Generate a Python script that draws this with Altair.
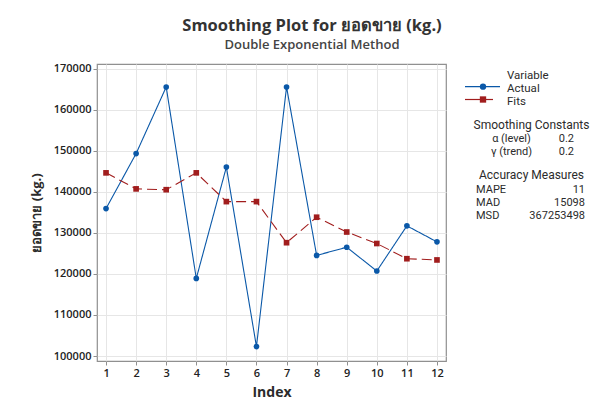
import altair as alt
import pandas as pd

index = list(range(1, 13))
actual = [135900, 149300, 165500, 118900, 146000, 102300, 165500, 124500, 126500, 120700, 131700, 127800]
fits = [144600, 140700, 140500, 144600, 137600, 137600, 127600, 133800, 130200, 127400, 123700, 123400]
series_names = ["Actual", "Fits"]
series_colors = ["#0a58a8", "#a11d1d"]

title_text = "Smoothing Plot for ยอดขาย (kg.)"
subtitle_text = "Double Exponential Method"
y_title = "ยอดขาย (kg.)"
x_title = "Index"
const_labels = ["α (level)", "γ (trend)"]
const_values = ["0.2", "0.2"]
acc_labels = ["MAPE", "MAD", "MSD"]
acc_values = ["11", "15098", "367253498"]

FONT = "Open Sans"
LFONT = "Roboto"
TXT = "#2b2b2b"

df = pd.DataFrame({
    "Index": index * 2,
    "Value": actual + fits,
    "Variable": ["Actual"] * len(index) + ["Fits"] * len(index),
})

W, H = 349, 297

xs = alt.X("Index:Q", scale=alt.Scale(domain=[0.7, 12.3], nice=False, zero=False),
           axis=alt.Axis(values=index, title=x_title, format="d", grid=True,
                         titlePadding=7, titleFontSize=14, titleFontWeight="bold"))
ys = alt.Y("Value:Q", scale=alt.Scale(domain=[98800, 171100], nice=False, zero=False),
           axis=alt.Axis(values=list(range(100000, 170001, 10000)), title=y_title, format="d",
                         grid=True, titlePadding=10, titleFontSize=13, titleFontWeight="bold"))
color = alt.Color("Variable:N", scale=alt.Scale(domain=series_names, range=series_colors), legend=None)

base = alt.Chart(df)
lines = base.mark_line(strokeWidth=1.1).encode(
    x=xs, y=ys, color=color,
    strokeDash=alt.StrokeDash("Variable:N", scale=alt.Scale(domain=series_names, range=[[1, 0], [10, 5]]), legend=None),
)
points = base.mark_point(filled=True, opacity=1, size=32).encode(
    x=xs, y=ys, color=color,
    shape=alt.Shape("Variable:N", scale=alt.Scale(domain=series_names, range=["circle", "square"]), legend=None),
)

one = pd.DataFrame({"a": [0]})

def txt(t, x, y, align="left", size=11, weight="normal", color=TXT, font=LFONT):
    return alt.Chart(one).mark_text(text=t, align=align, baseline="alphabetic", fontSize=size,
                                    fontWeight=weight, font=font, color=color).encode(
        x=alt.value(x), y=alt.value(y))

layers = [lines, points]
# titles
layers.append(txt(title_text, 215, -33, align="center", size=16.5, weight="bold", color="#333333", font=FONT))
layers.append(txt(subtitle_text, 215, -15.5, align="center", size=13, weight=600, color="#444444", font=FONT))

# legend
layers.append(txt("Variable", 410, 14.5, size=11.5))
layers.append(txt("Actual", 410, 27.5, size=11.5))
layers.append(txt("Fits", 410, 40.5, size=11.5))
for i, (name, col) in enumerate(zip(series_names, series_colors)):
    yv = 22.7 + i * 12.8
    x2 = 403 if i == 0 else 396
    layers.append(alt.Chart(one).mark_rule(color=col, strokeWidth=1.2).encode(
        x=alt.value(368), x2=alt.value(x2), y=alt.value(yv)))
    layers.append(alt.Chart(one).mark_point(filled=True, opacity=1, size=40, color=col,
                                            shape="circle" if i == 0 else "square").encode(
        x=alt.value(386), y=alt.value(yv)))

layers.append(txt("Smoothing Constants", 434.5, 64.5, align="center", size=12))
for i, (l, v) in enumerate(zip(const_labels, const_values)):
    layers.append(txt(l, 414.5, 78 + i * 13, align="center"))
    layers.append(txt(v, 477, 78 + i * 13, align="right"))

layers.append(txt("Accuracy Measures", 434.5, 115, align="center", size=12))
for i, (l, v) in enumerate(zip(acc_labels, acc_values)):
    layers.append(txt(l, 379, 128.5 + i * 13))
    layers.append(txt(v, 488, 128.5 + i * 13, align="right"))

chart = alt.layer(*layers).properties(
    width=W, height=H,
    autosize=alt.AutoSizeParams(type="none"),
    padding={"left": 89, "top": 56, "right": 148, "bottom": 42},
).configure_view(stroke="#909090", strokeWidth=1.2).configure_axis(
    labelFont=FONT, titleFont=FONT, labelFontSize=11, labelFontWeight=600,
    labelColor="#222222", titleColor=TXT, gridColor="#e6e6e6", gridWidth=1,
    tickColor="#909090", tickSize=4, labelPadding=2, domain=False,
)

chart.save("out.html", embed_options={"renderer": "svg", "actions": False})
